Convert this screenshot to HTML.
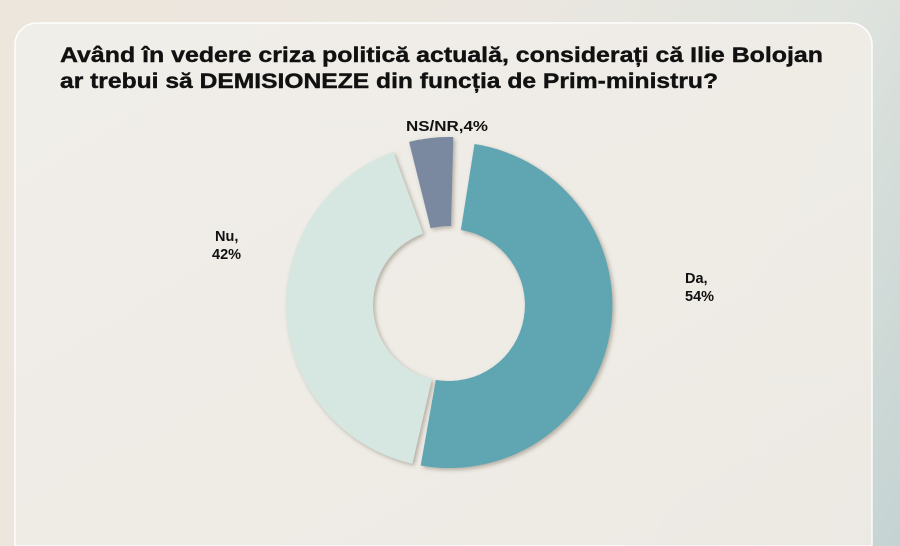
<!DOCTYPE html>
<html><head><meta charset="utf-8">
<style>
html,body{margin:0;padding:0;width:900px;height:546px;overflow:hidden}
body{background:linear-gradient(115deg,#ece6dc 0%,#ebe7e0 45%,#dfe3de 75%,#c4d3d2 100%);font-family:"Liberation Sans",sans-serif}
</style></head><body>
<svg id="s" width="900" height="546" viewBox="0 0 900 546" xmlns="http://www.w3.org/2000/svg">
<defs>
<linearGradient id="card" x1="0" y1="0" x2="1" y2="1">
<stop offset="0" stop-color="#f1efea"/><stop offset="1" stop-color="#efebe5"/></linearGradient>
<filter id="sh" x="-20%" y="-20%" width="140%" height="140%"><feDropShadow dx="2" dy="2" stdDeviation="2" flood-color="#6a6050" flood-opacity="0.45"/></filter>
</defs>
<path d="M15 546 V45 A22 22 0 0 1 37 23 H850 A22 22 0 0 1 872 45 V546 Z" fill="url(#card)" stroke="#ffffff" stroke-width="1.5" opacity="0.95"/>
<g font-weight="bold" fill="#111" font-size="21.5" stroke="#111" stroke-width="0.4">
<text x="60" y="62" textLength="763" lengthAdjust="spacingAndGlyphs">Având în vedere criza politică actuală, considerați că Ilie Bolojan</text>
<text x="60" y="88" textLength="658" lengthAdjust="spacingAndGlyphs">ar trebui să DEMISIONEZE din funcția de Prim-ministru?</text>
</g>
<g id="d" filter="url(#sh)"></g>
<g font-weight="bold" fill="#111" font-size="14.5">
<text x="406" y="131" textLength="82" lengthAdjust="spacingAndGlyphs">NS/NR,4%</text>
<text x="215" y="241">Nu,</text>
<text x="212" y="259">42%</text>
<text x="685" y="283">Da,</text>
<text x="685" y="301">54%</text>
</g>
</svg>
<script>
function arc(cx,cy,R,r,a0,a1,col){
 function p(rad,a){a=(a-90)*Math.PI/180;return (cx+rad*Math.cos(a)).toFixed(2)+" "+(cy+rad*Math.sin(a)).toFixed(2);}
 var l=(a1-a0)>180?1:0;
 return '<path fill="'+col+'" d="M'+p(R,a0)+' A'+R+' '+R+' 0 '+l+' 1 '+p(R,a1)+' L'+p(r,a1)+' A'+r+' '+r+' 0 '+l+' 0 '+p(r,a0)+' Z"/>';
}
var cx=449,cy=305,R=163,r=76,h='';
h+=arc(cx,cy,R,r,9,190,'#5ea6b2');
h+=arc(cx,cy,R,r,193,340,'#d6e6e1');
h+=arc(cx,cy-3,R+2,r,-14,1.5,'#7a89a0');
document.getElementById('d').innerHTML=h;
</script>
</body></html>
